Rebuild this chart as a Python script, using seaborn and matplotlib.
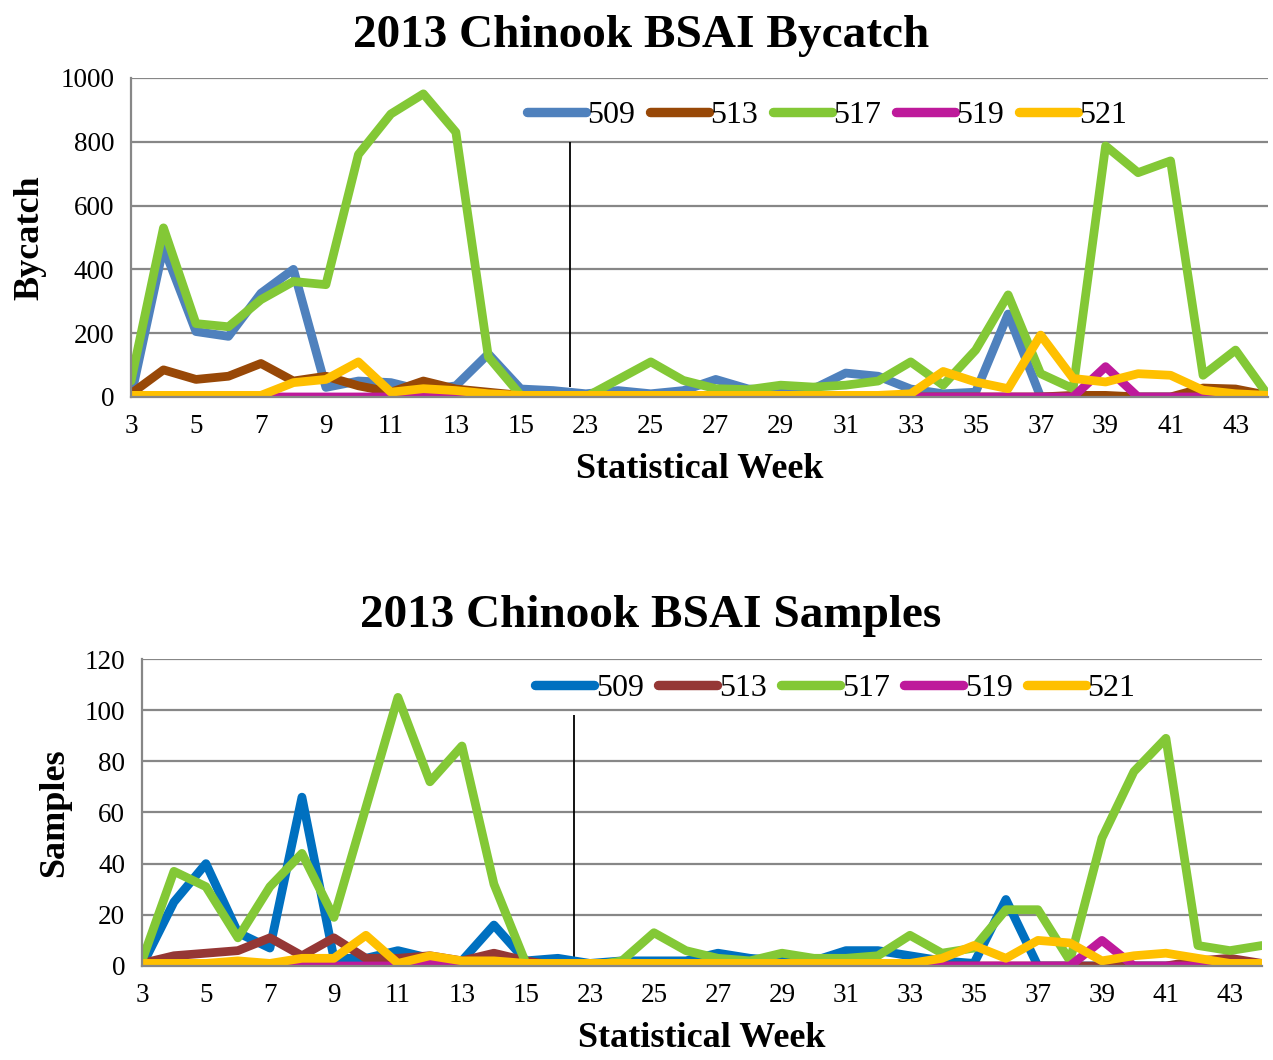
import numpy as np
import pandas as pd
import matplotlib
matplotlib.use("Agg")
import matplotlib.pyplot as plt
from matplotlib.lines import Line2D
import seaborn as sns

# statistical weeks (categorical axis, A season then B season)
weeks = [3, 4, 5, 6, 7, 8, 9, 10, 11, 12, 13, 14, 15, 16,
         23, 24, 25, 26, 27, 28, 29, 30, 31, 32, 33, 34, 35, 36, 37, 38, 39, 40, 41, 42, 43, 44]
areas = ["509", "513", "517", "519", "521"]

# bycatch by area
bycatch_509 = [0, 470, 205, 190, 325, 400, 30, 50, 45, 20, 35, 135, 25, 20, 10, 20, 10, 20,
               55, 25, 20, 25, 75, 65, 25, 10, 15, 260, 0, 0, 0, 0, 0, 0, 0, 0]
bycatch_513 = [10, 85, 55, 65, 105, 50, 65, 35, 15, 50, 25, 15, 5, 0, 0, 0, 0, 0,
               0, 0, 0, 0, 0, 0, 0, 0, 0, 0, 0, 5, 5, 0, 0, 28, 25, 5]
bycatch_517 = [50, 530, 230, 220, 305, 362, 352, 760, 887, 950, 830, 126, 5, 0, 0, 55, 110, 52,
               26, 23, 37, 31, 37, 50, 110, 37, 147, 320, 73, 26, 787, 703, 740, 68, 147, 5]
bycatch_519 = [0, 0, 0, 0, 0, 0, 0, 0, 0, 0, 0, 0, 0, 0, 0, 0, 0, 0,
               0, 0, 0, 0, 0, 0, 0, 0, 0, 0, 0, 0, 95, 0, 0, 0, 0, 0]
bycatch_521 = [5, 5, 5, 5, 5, 45, 55, 110, 15, 26, 20, 10, 5, 5, 5, 5, 5, 5,
               5, 5, 5, 5, 5, 5, 10, 80, 47, 26, 194, 58, 47, 73, 68, 21, 10, 5]

# samples by area
samples_509 = [0, 25, 40, 13, 7, 66, 3, 3, 6, 3, 2, 16, 2, 3, 1, 2, 2, 2,
               5, 3, 2, 2, 6, 6, 4, 2, 1, 26, 0, 0, 0, 0, 0, 0, 0, 0]
samples_513 = [1, 4, 5, 6, 11, 4, 11, 3, 3, 4, 2, 5, 2, 0, 0, 0, 0, 0,
               0, 0, 0, 0, 0, 0, 0, 0, 0, 0, 0, 0, 0, 0, 0, 2, 3, 1]
samples_517 = [2, 37, 31, 11, 31, 44, 19, 62, 105, 72, 86, 32, 1, 0, 0, 2, 13, 6,
               3, 2, 5, 3, 3, 4, 12, 5, 7, 22, 22, 2, 50, 76, 89, 8, 6, 8]
samples_519 = [0, 0, 0, 0, 0, 0, 0, 0, 0, 1, 0, 0, 0, 0, 0, 0, 0, 0,
               0, 0, 0, 0, 0, 0, 0, 0, 0, 0, 0, 0, 10, 0, 0, 0, 0, 0]
samples_521 = [1, 1, 1, 2, 1, 3, 3, 12, 1, 4, 2, 2, 1, 1, 1, 1, 1, 1,
               1, 1, 1, 1, 1, 1, 1, 3, 8, 3, 10, 9, 2, 4, 5, 3, 1, 1]

colors_top = ["#4F81BD", "#984807", "#83C836", "#BE1A9B", "#FFC000"]
colors_bot = ["#0070C0", "#953735", "#83C836", "#BE1A9B", "#FFC000"]

sns.set_style("white")
plt.rcParams["font.family"] = ["Liberation Serif", "DejaVu Serif"]
plt.rcParams["text.color"] = "black"
plt.rcParams["axes.labelcolor"] = "black"
plt.rcParams["xtick.labelcolor"] = "black"
plt.rcParams["ytick.labelcolor"] = "black"

GRID = "#878787"


def to_long(series):
    rows = []
    for area, vals in zip(areas, series):
        for i, v in enumerate(vals):
            rows.append({"pos": i, "week": weeks[i], "area": area, "value": v})
    return pd.DataFrame(rows)


def draw_panel(ax, df, colors, ymax, ystep, ylabel, sep_range, leg_anchor):
    pal = dict(zip(areas, colors))
    sns.lineplot(data=df, x="pos", y="value", hue="area", hue_order=areas, palette=pal,
                 linewidth=6.3, sort=False, legend=False, ax=ax)
    for ln in ax.lines:
        ln.set_solid_joinstyle("round")
        ln.set_solid_capstyle("round")
    ax.set_xlim(0, len(weeks) - 1)
    ax.set_ylim(0, ymax)
    ax.set_yticks(np.arange(0, ymax + 1, ystep))
    ax.set_xticks(range(len(weeks)))
    ax.set_xticklabels([str(w) if i % 2 == 0 else "" for i, w in enumerate(weeks)])
    ax.grid(axis="y", color=GRID, linewidth=1.6)
    ax.set_axisbelow(True)
    for s in ["top", "right"]:
        ax.spines[s].set_visible(False)
    for s in ["left", "bottom"]:
        ax.spines[s].set_color(GRID)
        ax.spines[s].set_linewidth(1.6)
    ax.tick_params(axis="both", direction="out", length=6, width=1.2, color=GRID,
                   labelsize=19.5, pad=6)
    ax.set_xlabel("Statistical Week", fontsize=26, fontweight="bold", labelpad=10)
    ax.set_ylabel(ylabel, fontsize=26, fontweight="bold", labelpad=10)
    ax.vlines(13.5, sep_range[0], sep_range[1], color="black", linewidth=1.3, zorder=1)
    handles = [Line2D([0], [0], color=c, linewidth=6.8, solid_capstyle="round") for c in colors]
    ax.legend(handles, areas, loc="center", bbox_to_anchor=leg_anchor, ncol=5, frameon=False,
              fontsize=23, handlelength=1.85, handletextpad=0.05, columnspacing=0.45)


fig = plt.figure(figsize=(12.73, 10.60), dpi=100)
ax1 = fig.add_axes([0.1029, 0.6255, 0.8932, 0.3010])
ax2 = fig.add_axes([0.1115, 0.0887, 0.8798, 0.2896])

top = to_long([bycatch_509, bycatch_513, bycatch_517, bycatch_519, bycatch_521])
bot = to_long([samples_509, samples_513, samples_517, samples_519, samples_521])

draw_panel(ax1, top, colors_top, 1000, 200, "Bycatch", (30, 800), (0.612, 0.882))
draw_panel(ax2, bot, colors_bot, 120, 20, "Samples", (3, 98), (0.619, 0.905))

fig.text(0.504, 0.966, "2013 Chinook BSAI Bycatch", ha="center", va="center",
         fontsize=34, fontweight="bold")
fig.text(0.511, 0.419, "2013 Chinook BSAI Samples", ha="center", va="center",
         fontsize=34, fontweight="bold")

fig.savefig("out.png", dpi=100)
